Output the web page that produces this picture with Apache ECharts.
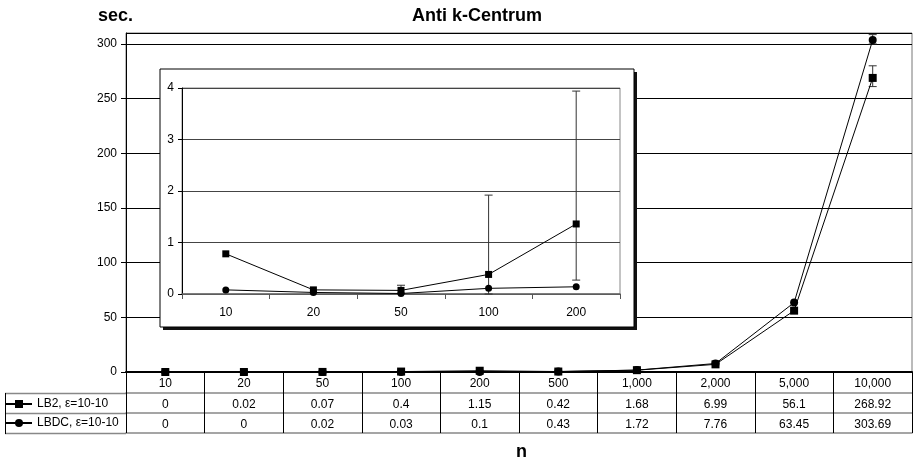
<!DOCTYPE html>
<html>
<head>
<meta charset="utf-8">
<script src="https://cdn.jsdelivr.net/npm/echarts@6/dist/echarts.min.js"></script>
<style>html,body{margin:0;padding:0;background:#fff}#c{width:913px;height:461px}</style>
</head>
<body>
<div id="c"></div>
<script>
// ---- data ----
const categories = ['10', '20', '50', '100', '200', '500', '1,000', '2,000', '5,000', '10,000'];
const lb2 = [0, 0.02, 0.07, 0.4, 1.15, 0.42, 1.68, 6.99, 56.1, 268.92];
const lbdc = [0, 0, 0.02, 0.03, 0.1, 0.43, 1.72, 7.76, 63.45, 303.69];
const lb2ErrLow = [null, null, null, null, null, null, null, null, null, 261];
const lb2ErrHigh = [null, null, null, null, null, null, null, null, null, 280];
const lbdcErrLow = [null, null, null, null, null, null, null, null, null, 300];
const lbdcErrHigh = [null, null, null, null, null, null, null, null, null, 308.5];

const insetCategories = ['10', '20', '50', '100', '200'];
const insetLb2 = [0.78, 0.08, 0.07, 0.38, 1.36];
const insetLbdc = [0.08, 0.03, 0.01, 0.11, 0.14];
const insetErrLow = [null, null, 0, 0, 0.27];
const insetErrHigh = [null, null, 0.17, 1.92, 3.94];

const nameLb2 = 'LB2, \u03b5=10-10';
const nameLbdc = 'LBDC, \u03b5=10-10';
const FONT = 'Liberation Sans, Arial, sans-serif';

function errData(lo, hi) {
  const out = [];
  lo.forEach((v, i) => { if (v !== null && hi[i] !== null) out.push([i, v, hi[i]]); });
  return out;
}
function errRender(params, api) {
  const x = api.value(0), lo = api.value(1), hi = api.value(2);
  const p1 = api.coord([x, lo]), p2 = api.coord([x, hi]);
  const w = 4;
  const st = { stroke: '#333', lineWidth: 1 };
  return { type: 'group', children: [
    { type: 'line', shape: { x1: p1[0], y1: p1[1], x2: p2[0], y2: p2[1] }, style: st },
    { type: 'line', shape: { x1: p2[0] - w, y1: p2[1], x2: p2[0] + w, y2: p2[1] }, style: st },
    { type: 'line', shape: { x1: p1[0] - w, y1: p1[1], x2: p1[0] + w, y2: p1[1] }, style: st }
  ]};
}

const chart = echarts.init(document.getElementById('c'), null, { renderer: 'canvas' });

const lblStyle = { color: '#000', fontSize: 12, fontFamily: FONT };

const option = {
  animation: false,
  backgroundColor: '#fff',
  textStyle: { fontFamily: FONT },
  title: [
    { text: 'Anti k-Centrum', left: 412, top: 7, padding: 0, textStyle: { fontSize: 18, fontWeight: 'bold', color: '#000', fontFamily: FONT } },
    { text: 'sec.', left: 98, top: 7, padding: 0, textStyle: { fontSize: 18, fontWeight: 'bold', color: '#000', fontFamily: FONT } },
    { text: 'n', left: 516, top: 443, padding: 0, textStyle: { fontSize: 18, fontWeight: 'bold', color: '#000', fontFamily: FONT } }
  ],
  legend: {
    data: [nameLb2, nameLbdc],
    orient: 'vertical', left: 5, top: 398, padding: 0,
    itemWidth: 26, itemHeight: 10, itemGap: 7,
    textStyle: { fontSize: 12, color: '#000', fontFamily: FONT },
    selectedMode: false
  },
  grid: [
    { left: 126, top: 33, right: 1, bottom: 89, show: true, borderColor: '#777', borderWidth: 1 },
    { left: 182, top: 88, right: 293, bottom: 167, show: true, borderColor: '#888', borderWidth: 1, z: 5 }
  ],
  xAxis: [
    { type: 'category', gridIndex: 0, data: categories, boundaryGap: true,
      axisLine: { lineStyle: { color: '#000', width: 2 } },
      axisTick: { show: true, length: 21, lineStyle: { color: '#000', width: 1 } },
      axisLabel: Object.assign({ margin: 6, interval: 0 }, lblStyle), splitLine: { show: false } },
    { type: 'category', gridIndex: 0, data: categories, position: 'bottom', offset: 21, boundaryGap: true,
      axisLine: { lineStyle: { color: '#888', width: 1.5 } },
      axisTick: { show: true, length: 20, lineStyle: { color: '#000', width: 1 } },
      axisLabel: Object.assign({ margin: 6, interval: 0, formatter: (v, i) => String(lb2[i]) }, lblStyle) },
    { type: 'category', gridIndex: 0, data: categories, position: 'bottom', offset: 41, boundaryGap: true,
      axisLine: { lineStyle: { color: '#888', width: 1.5 } },
      axisTick: { show: true, length: 20, lineStyle: { color: '#000', width: 1 } },
      axisLabel: Object.assign({ margin: 6, interval: 0, formatter: (v, i) => String(lbdc[i]) }, lblStyle) },
    { type: 'category', gridIndex: 0, data: categories, position: 'bottom', offset: 61, boundaryGap: true,
      axisLine: { lineStyle: { color: '#888', width: 1.5 } },
      axisTick: { show: false }, axisLabel: { show: false } },
    { type: 'category', gridIndex: 1, data: insetCategories, boundaryGap: true, z: 5,
      axisLine: { lineStyle: { color: '#666', width: 1.5 } },
      axisTick: { show: true, length: 5, lineStyle: { color: '#555', width: 1 } },
      axisLabel: Object.assign({ margin: 13, interval: 0 }, lblStyle) }
  ],
  yAxis: [
    { type: 'value', gridIndex: 0, min: 0, max: 310, interval: 50,
      axisLine: { show: true, lineStyle: { color: '#000', width: 1 } },
      axisTick: { show: true, length: 5, lineStyle: { color: '#000' } },
      splitLine: { show: true, lineStyle: { color: '#000', width: 1 } },
      axisLabel: Object.assign({ margin: 9, showMaxLabel: false, formatter: v => (v % 50 === 0 ? String(v) : '') }, lblStyle) },
    { type: 'value', gridIndex: 1, min: 0, max: 4, interval: 1, z: 5,
      axisLine: { show: true, lineStyle: { color: '#000', width: 1 } },
      axisTick: { show: true, length: 4, lineStyle: { color: '#000' } },
      splitLine: { show: true, lineStyle: { color: '#444', width: 1 } },
      axisLabel: Object.assign({ margin: 8 }, lblStyle) }
  ],
  graphic: [
    { type: 'rect', z: 3, shape: { x: 163, y: 72, width: 474, height: 258 }, style: { fill: '#111' } },
    { type: 'rect', z: 3, shape: { x: 160, y: 69, width: 474, height: 258 }, style: { fill: '#fff', stroke: '#000', lineWidth: 1 } },
    { type: 'line', shape: { x1: 5, y1: 393.5, x2: 126, y2: 393.5 }, style: { stroke: '#888', lineWidth: 1.5 } },
    { type: 'line', shape: { x1: 5, y1: 413.5, x2: 126, y2: 413.5 }, style: { stroke: '#888', lineWidth: 1.5 } },
    { type: 'line', shape: { x1: 5, y1: 433.5, x2: 126, y2: 433.5 }, style: { stroke: '#888', lineWidth: 1.5 } },
    { type: 'line', shape: { x1: 5.5, y1: 393, x2: 5.5, y2: 434 }, style: { stroke: '#000', lineWidth: 1 } }
  ],
  series: [
    { name: nameLb2, type: 'line', xAxisIndex: 0, yAxisIndex: 0, data: lb2, symbol: 'rect', symbolSize: 8, showAllSymbol: true,
      itemStyle: { color: '#000' }, lineStyle: { color: '#000', width: 1 }, z: 2 },
    { name: nameLbdc, type: 'line', xAxisIndex: 0, yAxisIndex: 0, data: lbdc, symbol: 'circle', symbolSize: 8, showAllSymbol: true,
      itemStyle: { color: '#000' }, lineStyle: { color: '#000', width: 1 }, z: 2 },
    { type: 'custom', xAxisIndex: 0, yAxisIndex: 0, data: errData(lb2ErrLow, lb2ErrHigh), renderItem: errRender, z: 2 },
    { type: 'custom', xAxisIndex: 0, yAxisIndex: 0, data: errData(lbdcErrLow, lbdcErrHigh), renderItem: errRender, z: 2 },
    { name: 'inset LB2', type: 'line', xAxisIndex: 4, yAxisIndex: 1, data: insetLb2, symbol: 'rect', symbolSize: 7, showAllSymbol: true,
      itemStyle: { color: '#000' }, lineStyle: { color: '#000', width: 1 }, z: 7 },
    { name: 'inset LBDC', type: 'line', xAxisIndex: 4, yAxisIndex: 1, data: insetLbdc, symbol: 'circle', symbolSize: 7, showAllSymbol: true,
      itemStyle: { color: '#000' }, lineStyle: { color: '#000', width: 1 }, z: 7 },
    { type: 'custom', xAxisIndex: 4, yAxisIndex: 1, data: errData(insetErrLow, insetErrHigh), renderItem: errRender, z: 6 }
  ]
};
chart.setOption(option);
</script>
</body>
</html>
